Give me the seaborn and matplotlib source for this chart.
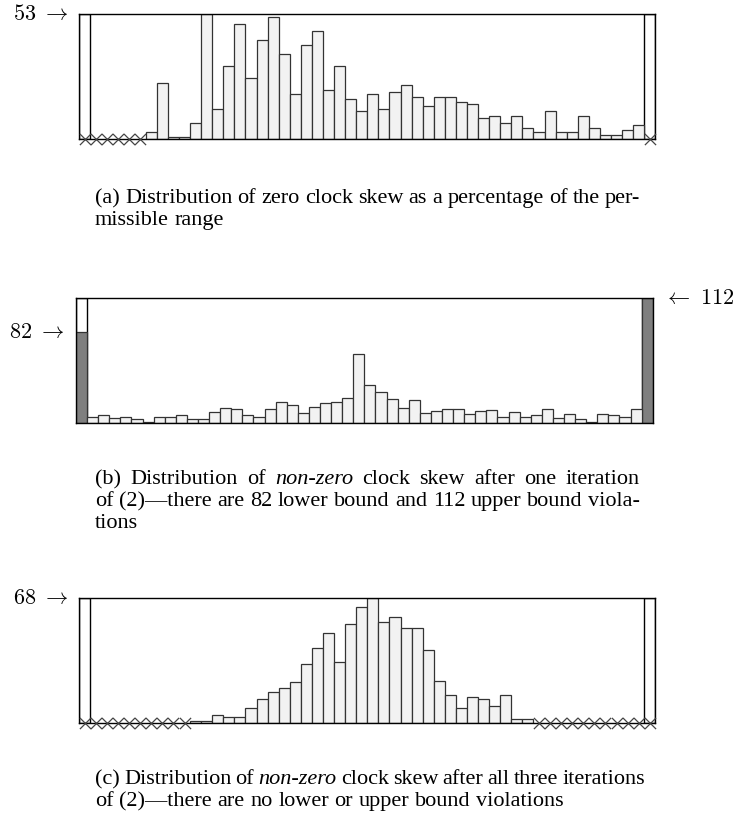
import matplotlib
matplotlib.use('Agg')
import matplotlib.pyplot as plt
import matplotlib.transforms as mtransforms
import numpy as np
import pandas as pd
import seaborn as sns

"""
Three histograms of clock skew (50 bins over the permissible range),
with one extra bin on each side for bound violations.
"""

# counts per interior bin (2% wide)
skew_zero = [0, 0, 0, 0, 0, 3, 24, 1, 1, 7, 53, 13, 31, 49, 26, 42, 52, 36, 19, 40,
             46, 21, 31, 17, 12, 19, 13, 20, 23, 18, 14, 18, 18, 16, 15, 9, 10, 7, 10, 5,
             3, 12, 3, 3, 10, 5, 2, 2, 4, 6]
skew_one_iter = [6, 7, 5, 6, 4, 1, 6, 6, 7, 4, 4, 10, 14, 13, 7, 6, 13, 19, 16, 9,
                 15, 18, 19, 23, 62, 34, 28, 22, 14, 21, 9, 11, 13, 13, 8, 11, 12, 6, 10, 6,
                 7, 13, 5, 8, 4, 1, 8, 7, 6, 13]
skew_three_iter = [0, 0, 0, 0, 0, 0, 0, 0, 0, 1, 1, 4, 3, 3, 8, 13, 17, 19, 22, 32,
                   41, 49, 33, 54, 63, 68, 55, 58, 52, 52, 40, 23, 15, 8, 14, 13, 9, 15, 2, 2,
                   0, 0, 0, 0, 0, 0, 0, 0, 0, 0]

# lower / upper bound violations
violations = {'a': (0, 0), 'b': (82, 112), 'c': (0, 0)}

# y range of each panel (its largest count)
ymax = {'a': 53, 'b': 112, 'c': 68}

captions = {
    'a': ["(a) Distribution of zero clock skew as a percentage of the per-",
          "missible range"],
    'b': ["(b) Distribution of _non-zero_ clock skew after one iteration",
          "of (2)\u2014there are 82 lower bound and 112 upper bound viola-",
          "tions"],
    'c': ["(c) Distribution of _non-zero_ clock skew after all three iterations",
          "of (2)\u2014there are no lower or upper bound violations"],
}

W, H = 751, 821
plt.rcParams['mathtext.fontset'] = 'cm'
fig = plt.figure(figsize=(W / 100, H / 100), dpi=100)

# axes boxes in pixels: left, top, right, bottom
boxes = {'a': (79.3, 14.3, 655.3, 139.3),
         'b': (76.0, 298.3, 652.7, 423.3),
         'c': (79.3, 598.3, 655.3, 722.7)}
# caption baselines (px) and justified right edge
cap_y = {'a': [203, 225], 'b': [484, 506, 528], 'c': [784, 806]}
cap_right = {'a': 640, 'b': 640, 'c': 636}
cap_left = 95

FILL = '#f2f2f2'
EDGE = '#333333'
DARK = '#7f7f7f'
CAP_FONT = 'Liberation Serif'
CAP_SIZE = 16
NUM_SIZE = 16


def draw_panel(key, counts):
    l, t, r, b = boxes[key]
    ax = fig.add_axes([l / W, 1 - b / H, (r - l) / W, (b - t) / H])
    lo, hi = violations[key]
    top = ymax[key]
    nb = len(counts)

    df = pd.DataFrame({
        'bin': np.arange(0, nb + 2),
        'count': [lo] + list(counts) + [hi],
        'kind': ['out'] + ['in'] * nb + ['out'],
    })

    # full-height boxes for the out-of-range bins
    ax.bar([0, nb + 1], [top, top], width=1, color='white',
           edgecolor='black', linewidth=1.0, zorder=1)
    sns.barplot(data=df, x='bin', y='count', hue='kind', native_scale=True,
                width=1, dodge=False, palette={'in': FILL, 'out': DARK},
                edgecolor=EDGE, linewidth=0.9, saturation=1, legend=False,
                errorbar=None, ax=ax, zorder=2)
    for p in ax.patches[2:]:
        if p.get_height() == 0:
            p.set_visible(False)

    # crosses for empty bins
    zeros = df[df['count'] == 0]
    if len(zeros):
        sns.scatterplot(x=zeros['bin'], y=np.zeros(len(zeros)), marker='x',
                        color='#444444', s=65, linewidth=0.9, ax=ax,
                        clip_on=False, zorder=5, legend=False)

    ax.set_xlim(-0.5, nb + 1.5)
    ax.set_ylim(0, top)
    ax.set_xticks([])
    ax.set_yticks([])
    ax.set_xlabel('')
    ax.set_ylabel('')
    for s in ax.spines.values():
        s.set_visible(True)
        s.set_color('black')
        s.set_linewidth(1.0)

    trans = mtransforms.blended_transform_factory(ax.transAxes, ax.transData)
    dx = 11 / (r - l)
    if key == 'b':
        ax.text(-dx, lo, r'$%d\ \rightarrow$' % lo, transform=trans,
                ha='right', va='center', fontsize=NUM_SIZE)
        ax.text(1 + dx, hi, r'$\leftarrow\ %d$' % hi, transform=trans,
                ha='left', va='center', fontsize=NUM_SIZE)
    else:
        ax.text(-dx, top, r'$%d\ \rightarrow$' % top, transform=trans,
                ha='right', va='center', fontsize=NUM_SIZE)
    return ax


def caption_line(text, y_px, right_px, justify):
    renderer = fig.canvas.get_renderer()
    words = text.split(' ')
    arts = []
    for w in words:
        style = 'normal'
        if w.startswith('_') and w.endswith('_'):
            w = w[1:-1]
            style = 'italic'
        a = fig.text(0, 1 - y_px / H, w, family=CAP_FONT, fontsize=CAP_SIZE,
                     style=style, va='baseline', ha='left')
        arts.append(a)
    widths = [a.get_window_extent(renderer).width for a in arts]
    t1 = fig.text(0, 0, 'a b', family=CAP_FONT, fontsize=CAP_SIZE)
    t2 = fig.text(0, 0, 'ab', family=CAP_FONT, fontsize=CAP_SIZE)
    sp = t1.get_window_extent(renderer).width - t2.get_window_extent(renderer).width
    t1.remove()
    t2.remove()
    if justify and len(words) > 1:
        sp = max((right_px - cap_left - sum(widths)) / (len(words) - 1), 0.75 * sp)
    x = cap_left
    for a, w in zip(arts, widths):
        a.set_x(x / W)
        x += w + sp


fig.canvas.draw()
draw_panel('a', skew_zero)
draw_panel('b', skew_one_iter)
draw_panel('c', skew_three_iter)

for key in ['a', 'b', 'c']:
    lines = captions[key]
    for i, line in enumerate(lines):
        last = i == len(lines) - 1
        caption_line(line, cap_y[key][i], cap_right[key], justify=not last)

fig.savefig('out.png', dpi=100)
